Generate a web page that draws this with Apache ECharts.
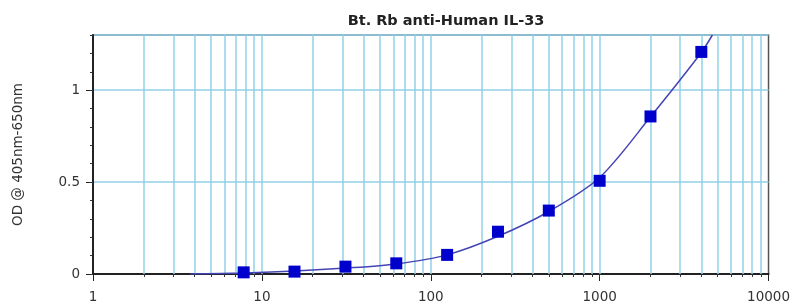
<!DOCTYPE html>
<html>
<head>
<meta charset="utf-8">
<title>Bt. Rb anti-Human IL-33</title>
<script src="https://cdn.jsdelivr.net/npm/echarts@6/dist/echarts.min.js"></script>
<style>
    html, body { margin: 0; padding: 0; background: #fff; }
    #chart { width: 793px; height: 307px; }
</style>
</head>
<body>
<div id="chart"></div>
<script>
// 标准曲线数据 (浓度 / OD)
const concentration = [7.8, 15.6, 31.25, 62.5, 125, 250, 500, 1000, 2000, 4000];
const odValues = [0.009, 0.013, 0.04, 0.058, 0.104, 0.23, 0.345, 0.507, 0.857, 1.208];

// 拟合曲线 (读自图片)
const curveX = [3.75, 7.8, 15.6, 31.25, 62.5, 125, 250, 500, 1000, 2000, 4000, 4650];
const curveY = [0.0, 0.006, 0.016, 0.032, 0.055, 0.104, 0.205, 0.34, 0.525, 0.855, 1.205, 1.3];

// 对数轴的次刻度 / 网格线
const xGridValues = [
    2, 3, 4, 5, 6, 7, 8, 9, 10,
    20, 30, 40, 50, 60, 70, 80, 90, 100,
    200, 300, 400, 500, 600, 700, 800, 900, 1000,
    2000, 3000, 4000, 5000, 6000, 7000, 8000, 9000
];
const xRange = [1, 10000];
const yRange = [0, 1.3];

const gridBlue = '#92d0e8';
const fontName = 'DejaVu Sans, sans-serif';

document.addEventListener('DOMContentLoaded', function() {
    const myChart = echarts.init(document.getElementById('chart'));

    const option = {
        animation: false,
        backgroundColor: '#fff',
        title: {
            text: 'Bt. Rb anti-Human IL-33',
            left: 441,
            top: 9,
            textAlign: 'center',
            textStyle: {
                fontFamily: fontName,
                fontSize: 14.5,
                fontWeight: 'bold',
                color: '#222'
            }
        },
        grid: {
            left: 93,
            right: 24,
            top: 35,
            bottom: 33,
            show: true,
            borderColor: '#555',
            borderWidth: 1.5
        },
        xAxis: [
            {
                type: 'log',
                logBase: 10,
                min: xRange[0],
                max: xRange[1],
                position: 'bottom',
                axisLine: { onZero: false, lineStyle: { color: '#222', width: 2 } },
                axisTick: { length: 7, lineStyle: { color: '#222', width: 1 } },
                axisLabel: {
                    fontFamily: fontName,
                    fontSize: 13.5,
                    color: '#333',
                    margin: 16,
                    formatter: function(v) { return String(Math.round(v)); }
                },
                splitLine: { show: false }
            },
            {
                type: 'log',
                logBase: 10,
                min: xRange[0],
                max: xRange[1],
                position: 'bottom',
                axisLine: { show: false },
                axisTick: {
                    length: 3,
                    customValues: xGridValues,
                    lineStyle: { color: '#333', width: 1 }
                },
                axisLabel: { show: false },
                splitLine: { show: false }
            }
        ],
        yAxis: [
            {
                type: 'value',
                min: yRange[0],
                max: yRange[1],
                interval: 0.5,
                name: 'OD @ 405nm-650nm',
                nameLocation: 'middle',
                nameRotate: 90,
                nameGap: 68,
                nameTextStyle: {
                    fontFamily: fontName,
                    fontSize: 13.5,
                    color: '#333'
                },
                axisLine: { show: true, onZero: false, lineStyle: { color: '#222', width: 2 } },
                axisTick: { show: true, length: 7, lineStyle: { color: '#222', width: 1 } },
                axisLabel: {
                    fontFamily: fontName,
                    fontSize: 13.5,
                    color: '#333',
                    margin: 13,
                    showMaxLabel: false
                },
                splitLine: { show: true, lineStyle: { color: gridBlue, width: 1.5 } }
            },
            {
                type: 'value',
                min: yRange[0],
                max: yRange[1],
                interval: 0.1,
                position: 'left',
                axisLine: { show: false },
                axisTick: { show: true, length: 3, lineStyle: { color: '#333', width: 1 } },
                axisLabel: { show: false },
                splitLine: { show: false }
            }
        ],
        series: [
            {
                // 竖直网格线
                name: 'grid',
                type: 'line',
                data: [],
                z: 1,
                silent: true,
                markLine: {
                    silent: true,
                    z: 1,
                    symbol: ['none', 'none'],
                    label: { show: false },
                    lineStyle: { color: gridBlue, width: 1.5, type: 'solid' },
                    emphasis: { disabled: true },
                    data: xGridValues.map(function(v) { return { xAxis: v }; })
                }
            },
            {
                name: 'fit',
                type: 'line',
                smooth: 0.3,
                showSymbol: false,
                clip: true,
                z: 3,
                lineStyle: { color: '#4444b4', width: 1.5 },
                data: curveX.map(function(x, i) { return [x, curveY[i]]; })
            },
            {
                name: 'OD',
                type: 'scatter',
                symbol: 'rect',
                symbolSize: 12,
                z: 4,
                itemStyle: { color: '#0000cc', opacity: 1 },
                data: concentration.map(function(x, i) { return [x, odValues[i]]; })
            }
        ]
    };

    myChart.setOption(option);

    window.addEventListener('resize', function() {
        myChart.resize();
    });
});
</script>
</body>
</html>
